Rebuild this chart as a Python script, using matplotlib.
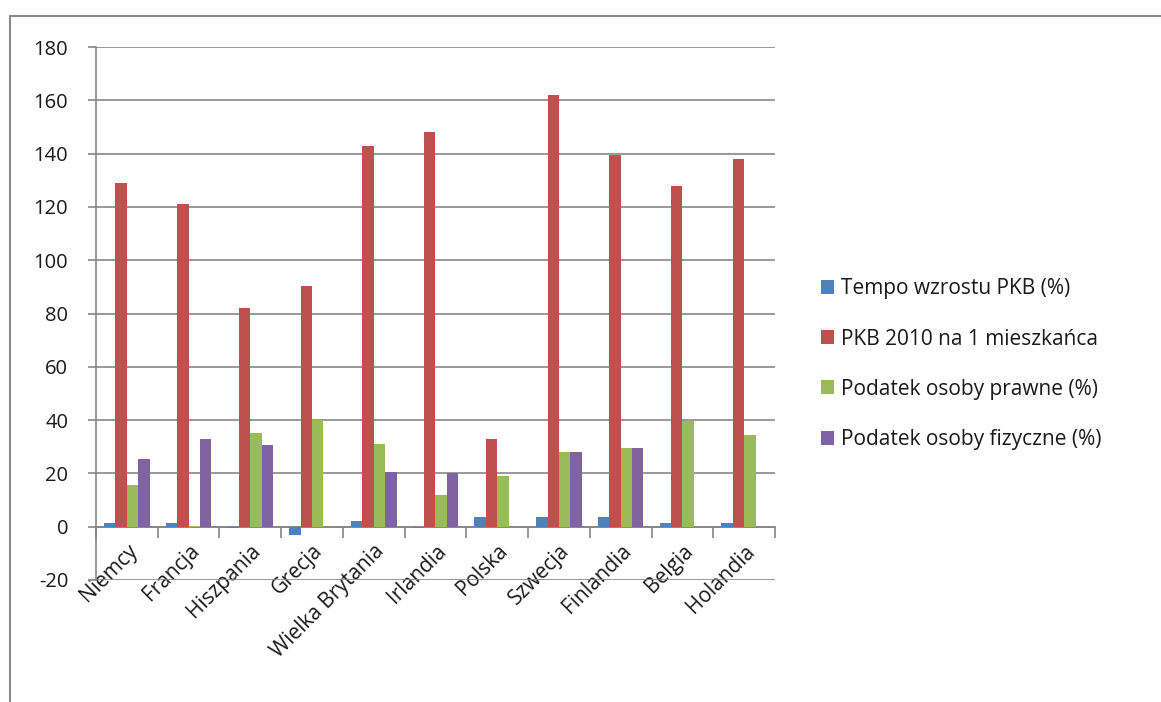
import numpy as np
import matplotlib.pyplot as plt
from matplotlib.patches import Rectangle
from matplotlib.ticker import FixedLocator

plt.rcParams['font.family'] = ['Open Sans', 'DejaVu Sans']
plt.rcParams['axes.unicode_minus'] = False

## Countries and the four series
kraje = ['Niemcy', 'Francja', 'Hiszpania', 'Grecja', 'Wielka Brytania', 'Irlandia',
         'Polska', 'Szwecja', 'Finlandia', 'Belgia', 'Holandia']
tempo_pkb = [1.5, 1.5, -0.5, -3.0, 2.2, -0.5, 3.5, 3.5, 3.5, 1.5, 1.5]
pkb_2010 = [129, 121, 82, 90.5, 143, 148, 33, 162, 139.5, 128, 138]
podatek_prawne = [15.5, 0.3, 35, 40, 31, 12, 19, 28, 29.5, 39.5, 34.5]
podatek_fizyczne = [25.5, 33, 30.5, 0, 20.5, 20, 0, 28, 29.5, 0, 0]

serie = [
   ('Tempo wzrostu PKB (%)', tempo_pkb, '#4F81BD'),
   ('PKB 2010 na 1 mieszkańca', pkb_2010, '#C0504D'),
   ('Podatek osoby prawne (%)', podatek_prawne, '#9BBB59'),
   ('Podatek osoby fizyczne (%)', podatek_fizyczne, '#8064A2'),
]

fig = plt.figure(figsize=(11.61, 7.02), dpi=100)
ax = fig.add_axes([0.0827, 0.1738, 0.5848, 0.7592])

## Outer chart frame
fig.patches.append(Rectangle((0.0086, -0.01), 1.1, 0.987, transform=fig.transFigure,
                             fill=False, edgecolor='#8c8c8c', linewidth=1.5))

x = np.arange(len(kraje))
w = 0.185
for i, (nazwa, wartosci, kolor) in enumerate(serie):
   ax.bar(x + (i - 1.5)*w, wartosci, width=w, color=kolor, label=nazwa, zorder=3)

ax.set_xlim(-0.5, len(kraje) - 0.5)
ax.set_ylim(-20, 180)
ax.set_yticks(np.arange(-20, 181, 20))
ax.yaxis.grid(True, color='#868686', linewidth=1.2, zorder=0)

## Category axis sits at y = 0, tick marks between categories
ax.spines['bottom'].set_position(('data', 0))
ax.spines['bottom'].set_color('#868686')
ax.spines['bottom'].set_linewidth(1.2)
ax.spines['left'].set_color('#868686')
ax.spines['left'].set_linewidth(1.2)
ax.spines['top'].set_visible(False)
ax.spines['right'].set_visible(False)

ax.set_xticks(x)
ax.set_xticklabels(kraje, rotation=45, ha='right', rotation_mode='anchor', fontsize=15, color='#1a1a1a')
ax.tick_params(axis='x', which='major', length=0, pad=10)
ax.xaxis.set_minor_locator(FixedLocator(np.arange(-0.5, len(kraje), 1.0)))
ax.tick_params(axis='x', which='minor', length=8, width=1.2, color='#868686', direction='out')
ax.tick_params(axis='y', length=6, width=1.2, color='#868686', labelsize=14.5, labelcolor='#1a1a1a', pad=14)

ax.legend(loc='center left', bbox_to_anchor=(1.04, 0.405), frameon=False, fontsize=15,
          handlelength=0.65, handleheight=0.65, handletextpad=0.3, labelspacing=1.4,
          labelcolor='#1a1a1a')

plt.savefig('out.png', dpi=100)
